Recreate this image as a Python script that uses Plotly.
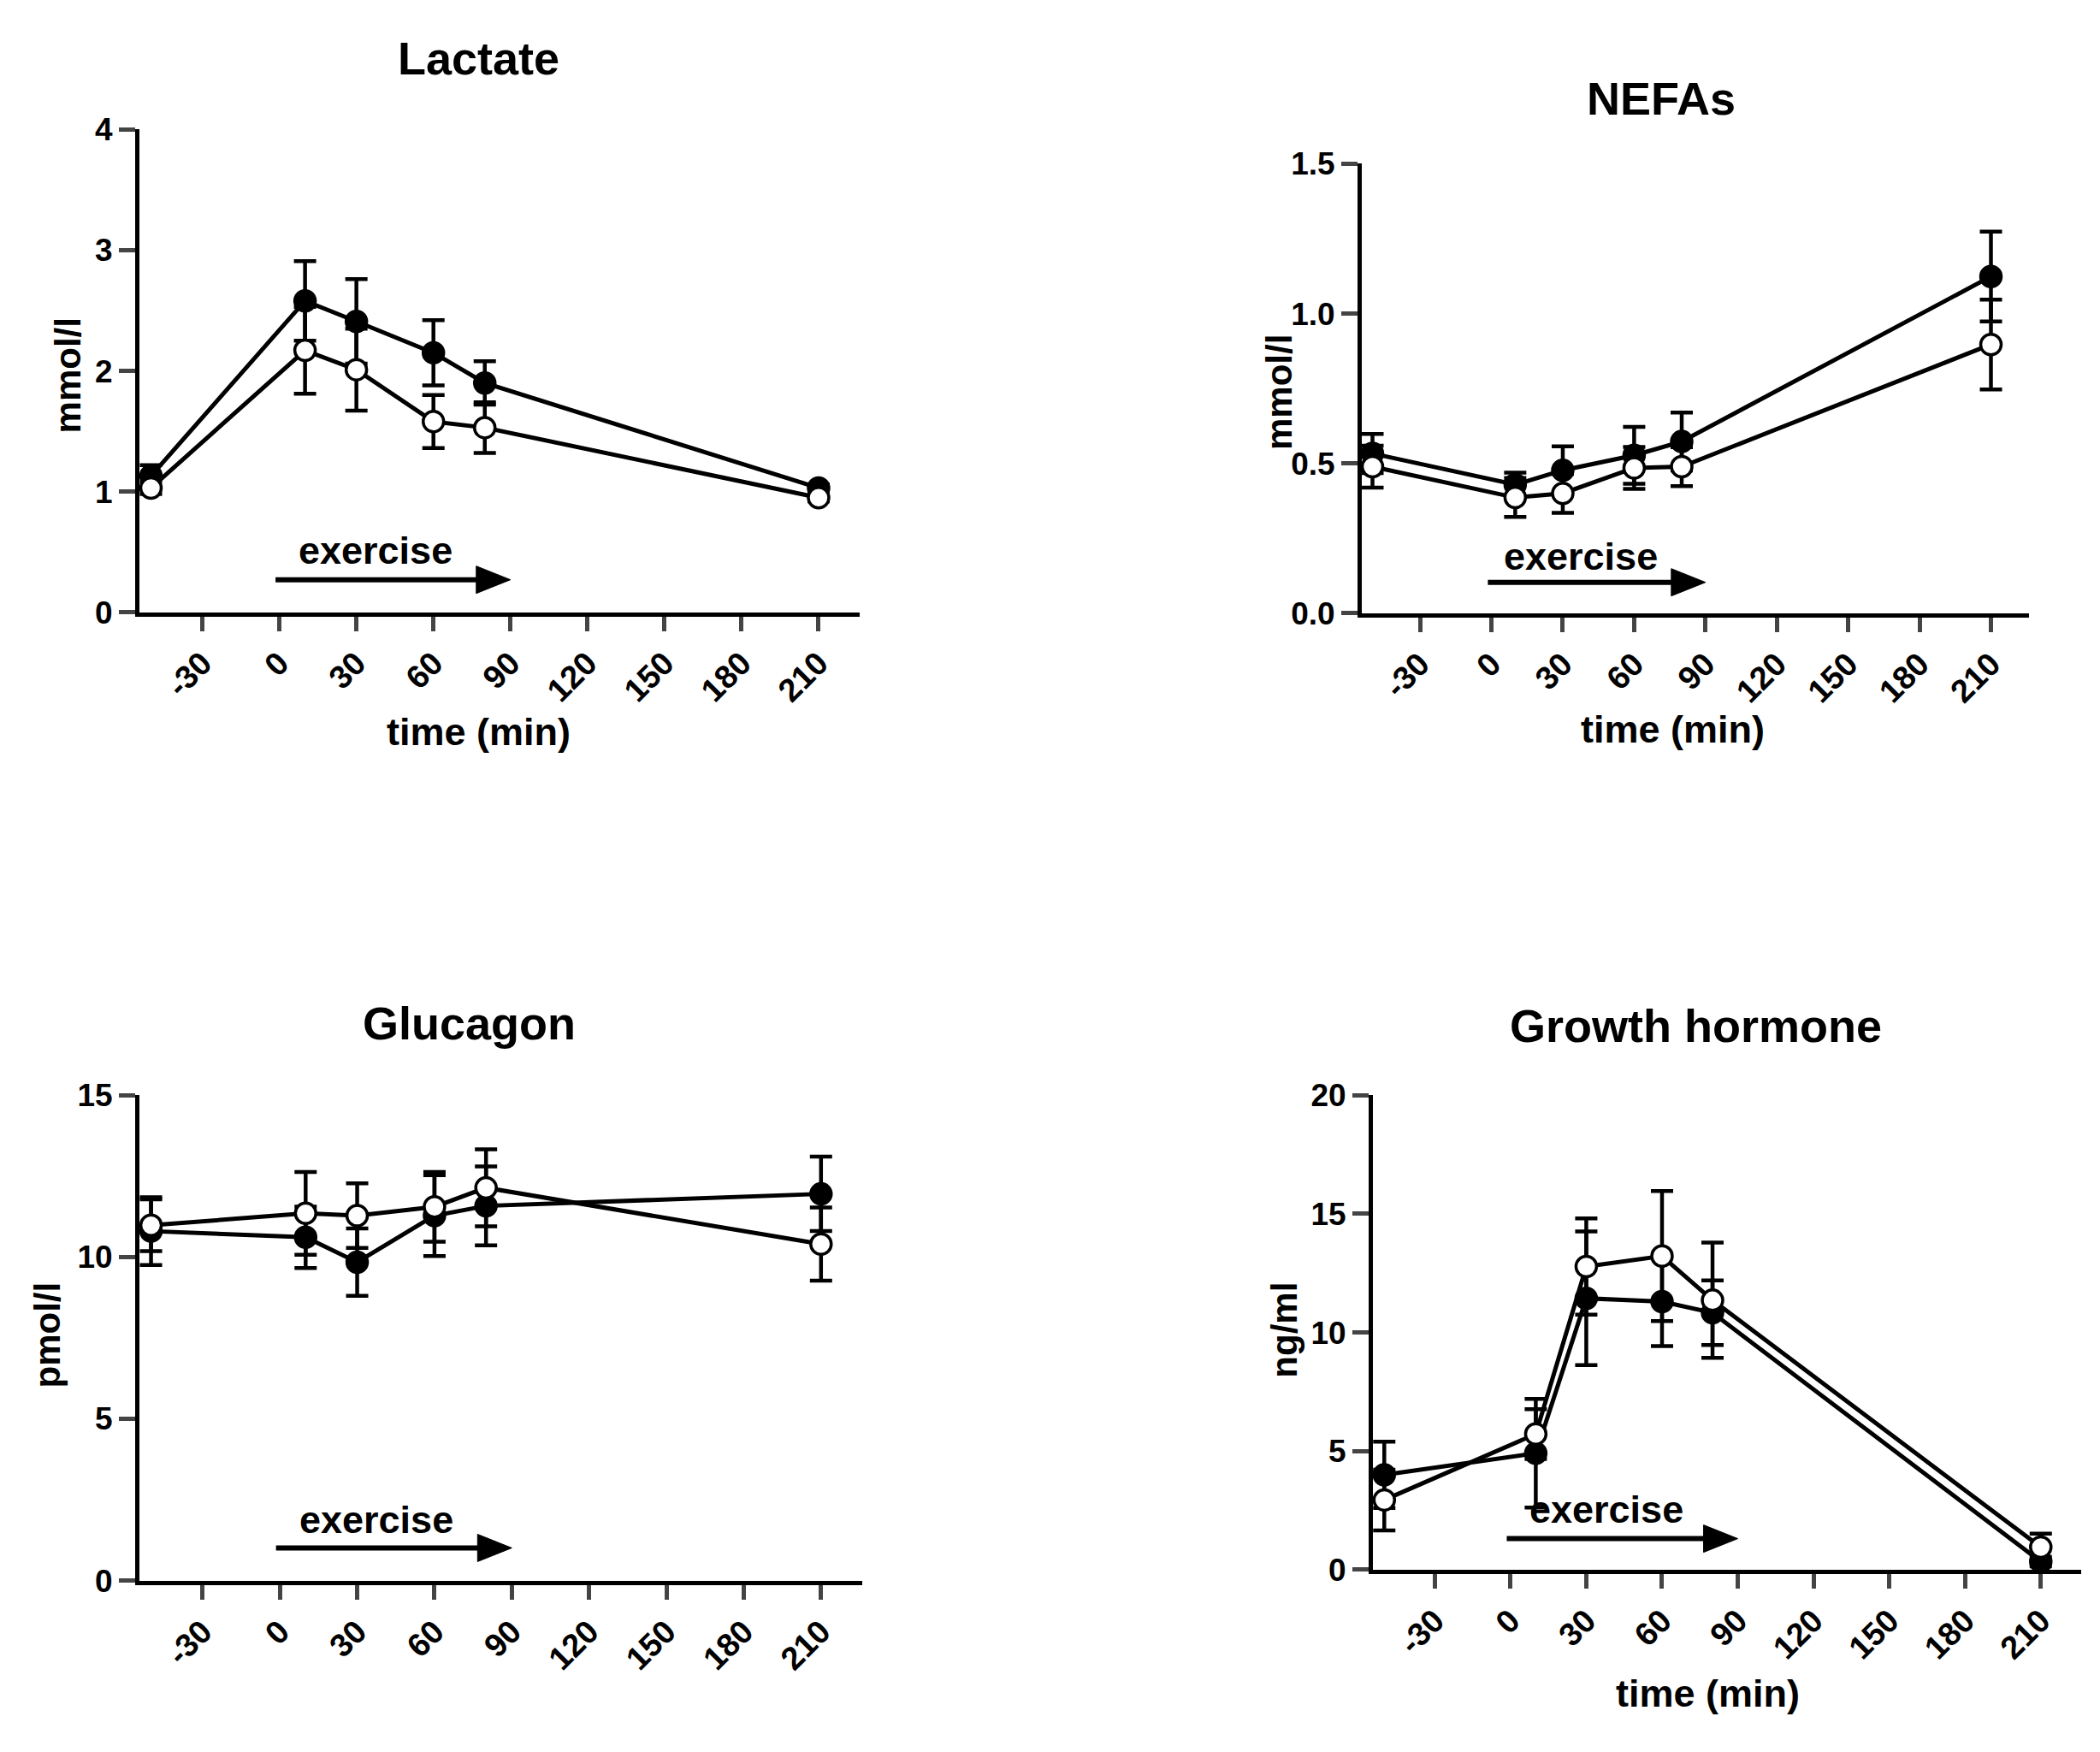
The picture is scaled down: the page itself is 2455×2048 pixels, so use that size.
import plotly.graph_objects as go

W, H = 2455, 2048

# ---------------- data ----------------
time_min = [-50, 10, 30, 60, 80, 210]
x_tick_vals = [-30, 0, 30, 60, 90, 120, 150, 180, 210]
x_tick_text = ["-30", "0", "30", "60", "90", "120", "150", "180", "210"]

exercise_start = 0
exercise_end = 90

lactate_filled = [1.13, 2.58, 2.41, 2.15, 1.90, 1.03]
lactate_filled_err = [0.09, 0.33, 0.35, 0.27, 0.18, 0.03]
lactate_open = [1.03, 2.17, 2.01, 1.58, 1.53, 0.95]
lactate_open_err = [0.05, 0.36, 0.34, 0.22, 0.21, 0.03]

nefa_filled = [0.533, 0.429, 0.477, 0.527, 0.573, 1.124]
nefa_filled_err = [0.065, 0.04, 0.08, 0.095, 0.097, 0.15]
nefa_open = [0.489, 0.386, 0.40, 0.485, 0.489, 0.897]
nefa_open_err = [0.07, 0.065, 0.065, 0.07, 0.065, 0.15]

glucagon_filled = [10.80, 10.61, 9.84, 11.28, 11.58, 11.95]
glucagon_filled_err = [1.05, 0.95, 1.04, 1.25, 1.22, 1.15]
glucagon_open = [10.98, 11.35, 11.28, 11.55, 12.14, 10.40]
glucagon_open_err = [0.80, 1.28, 1.00, 1.08, 1.19, 1.13]

gh_filled = [4.0, 4.91, 11.44, 11.30, 10.83, 0.34]
gh_filled_err = [1.40, 2.29, 2.82, 1.87, 1.36, 0.20]
gh_open = [2.94, 5.72, 12.78, 13.22, 11.36, 0.95]
gh_open_err = [1.28, 1.05, 2.03, 2.74, 2.43, 0.57]

lactate_ticks = [0, 1, 2, 3, 4]
nefa_ticks = [0.0, 0.5, 1.0, 1.5]
glucagon_ticks = [0, 5, 10, 15]
gh_ticks = [0, 5, 10, 15, 20]

# ---------------- layout config ----------------
FONT = "Liberation Sans, Arial, sans-serif"


def px_x(p):
    return p / W


def px_y(p):
    return 1 - p / H


panels = [
    dict(name="Lactate", ylabel="mmol/l", xlabel="time (min)",
         filled=lactate_filled, ferr=lactate_filled_err,
         open=lactate_open, oerr=lactate_open_err, ticks=lactate_ticks, fmt="",
         xdom=(163, 1005), ydom=(710, 134),
         title_pos=(559, 49), ylab_pos=(79, 428), xlab_pos=(559, 853),
         arrow_y=0.27, text_y=0.51, text_x=37.5),
    dict(name="NEFAs", ylabel="mmol/l", xlabel="time (min)",
         filled=nefa_filled, ferr=nefa_filled_err,
         open=nefa_open, oerr=nefa_open_err, ticks=nefa_ticks, fmt=".1f",
         xdom=(1592, 2372), ydom=(711, 175),
         title_pos=(1942, 97), ylab_pos=(1495, 448), xlab_pos=(1955, 850),
         arrow_y=0.103, text_y=0.19, text_x=37.5),
    dict(name="Glucagon", ylabel="pmol/l", xlabel=None,
         filled=glucagon_filled, ferr=glucagon_filled_err,
         open=glucagon_open, oerr=glucagon_open_err, ticks=glucagon_ticks, fmt="",
         xdom=(163, 1008), ydom=(1865, 1286),
         title_pos=(548, 1200), ylab_pos=(56, 1572), xlab_pos=None,
         arrow_y=1.01, text_y=1.89, text_x=37.5),
    dict(name="Growth hormone", ylabel="ng/ml", xlabel="time (min)",
         filled=gh_filled, ferr=gh_filled_err,
         open=gh_open, oerr=gh_open_err, ticks=gh_ticks, fmt="",
         xdom=(1605, 2433), ydom=(1852, 1286),
         title_pos=(1982, 1203), ylab_pos=(1502, 1566), xlab_pos=(1996, 2000),
         arrow_y=1.31, text_y=2.55, text_x=38),
]

fig = go.Figure()
annotations = []
shapes = []
layout_axes = {}
bold = dict(family=FONT, color="black", weight="bold")

for i, p in enumerate(panels):
    n = "" if i == 0 else str(i + 1)
    xr, yr = "x" + n, "y" + n
    for vals, errs, fillc in ((p["filled"], p["ferr"], "black"),
                              (p["open"], p["oerr"], "white")):
        fig.add_trace(go.Scatter(
            x=time_min, y=vals, xaxis=xr, yaxis=yr, mode="lines+markers",
            line=dict(color="black", width=5),
            marker=dict(size=24, color=fillc, line=dict(color="black", width=3.5)),
            error_y=dict(type="data", array=errs, visible=True, thickness=4.5,
                         width=13, color="black"),
            cliponaxis=False, showlegend=False))

    layout_axes["xaxis" + n] = dict(
        domain=[px_x(p["xdom"][0]), px_x(p["xdom"][1])], anchor=yr,
        range=[-54.5, 226], tickvals=x_tick_vals, ticktext=x_tick_text,
        tickangle=-45, ticks="outside", ticklen=17, tickwidth=5,
        showline=True, linewidth=5, linecolor="black", showgrid=False,
        zeroline=False, tickfont=dict(size=38, **bold))
    layout_axes["yaxis" + n] = dict(
        domain=[px_y(p["ydom"][0]), px_y(p["ydom"][1])], anchor=xr,
        range=[p["ticks"][0], p["ticks"][-1]], tickvals=p["ticks"],
        tickformat=p["fmt"], ticks="outside", ticklen=19, tickwidth=5,
        showline=True, linewidth=5, linecolor="black", showgrid=False,
        zeroline=False, tickfont=dict(size=37, **bold))

    annotations.append(dict(text=p["name"], x=px_x(p["title_pos"][0]), y=px_y(p["title_pos"][1]),
                            xref="paper", yref="paper", showarrow=False,
                            font=dict(size=54, **bold), xanchor="center", yanchor="middle"))
    annotations.append(dict(text=p["ylabel"], x=px_x(p["ylab_pos"][0]), y=px_y(p["ylab_pos"][1]),
                            xref="paper", yref="paper", showarrow=False, textangle=-90,
                            font=dict(size=42, **bold), xanchor="center", yanchor="middle"))
    if p["xlabel"]:
        annotations.append(dict(text=p["xlabel"], x=px_x(p["xlab_pos"][0]), y=px_y(p["xlab_pos"][1]),
                                xref="paper", yref="paper", showarrow=False,
                                font=dict(size=45, **bold), xanchor="center", yanchor="middle"))
    annotations.append(dict(text="exercise", x=p["text_x"], y=p["text_y"], xref=xr, yref=yr,
                            showarrow=False, font=dict(size=45, **bold),
                            xanchor="center", yanchor="middle"))
    # arrow shaft
    shapes.append(dict(type="line", xref=xr, yref=yr, x0=exercise_start - 1.5, x1=exercise_end - 8,
                       y0=p["arrow_y"], y1=p["arrow_y"], line=dict(color="black", width=6),
                       layer="above"))
    # arrow head
    shapes.append(dict(type="path", xref=xr, yref=yr, xsizemode="pixel", ysizemode="pixel",
                       xanchor=exercise_end, yanchor=p["arrow_y"],
                       path="M0,0 L-40,16 L-40,-16 Z", fillcolor="black",
                       line=dict(color="black", width=1), layer="above"))

fig.update_layout(
    width=W, height=H, margin=dict(l=0, r=0, t=0, b=0),
    paper_bgcolor="white", plot_bgcolor="white",
    annotations=annotations, shapes=shapes, showlegend=False,
    **layout_axes)

fig.write_html("out.html", config={"displayModeBar": False},
               post_script="document.body.style.margin='0px';")
